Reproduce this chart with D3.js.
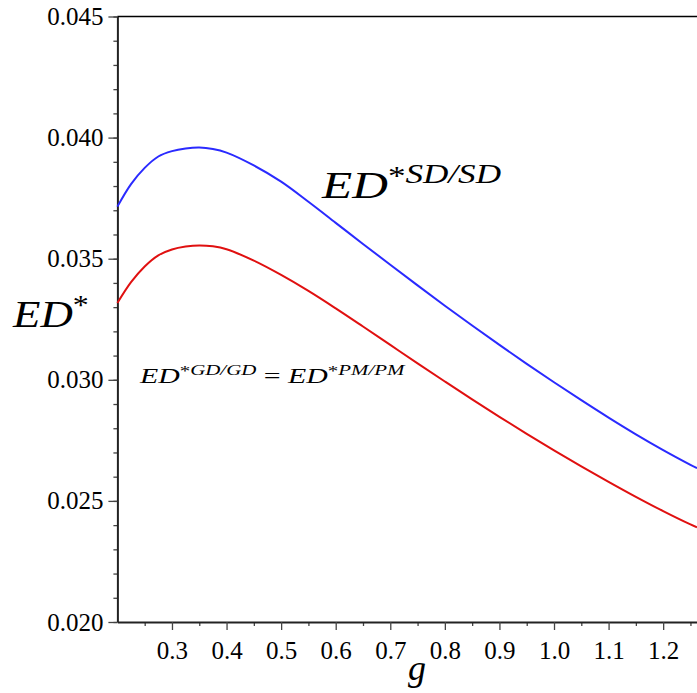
<!DOCTYPE html>
<html>
<head>
<meta charset="utf-8">
<script src="https://cdn.jsdelivr.net/npm/d3@7"></script>
<style>
	body { margin: 0; background: #fff; }
	svg { display: block; }
	text { font-family: "Liberation Serif", "DejaVu Serif", serif; fill: #000; }
</style>
</head>
<body>
<svg id="chart" width="697" height="693"></svg>
<script>
// values
var gValues = [0.20, 0.225, 0.25, 0.275, 0.30, 0.325, 0.35, 0.375, 0.40, 0.45, 0.50, 0.55, 0.60, 0.65,
	0.70, 0.75, 0.80, 0.85, 0.90, 0.95, 1.00, 1.05, 1.10, 1.15, 1.20, 1.25, 1.262];

var edSD = [0.03715, 0.03808, 0.03875, 0.03922, 0.03944, 0.03955, 0.03959, 0.03953, 0.03938, 0.03885,
	0.03818, 0.03735, 0.03648, 0.03561, 0.03475, 0.03390, 0.03306, 0.03224, 0.03144, 0.03066,
	0.02990, 0.02916, 0.02844, 0.02775, 0.02710, 0.02649, 0.02635];

var edGD = [0.03317, 0.03403, 0.03468, 0.03514, 0.03538, 0.03550, 0.03555, 0.03551, 0.03539, 0.03492,
	0.03433, 0.03367, 0.03295, 0.03220, 0.03144, 0.03068, 0.02993, 0.02919, 0.02847, 0.02777,
	0.02709, 0.02643, 0.02579, 0.02517, 0.02458, 0.02403, 0.02391];

var xTicks = [0.3, 0.4, 0.5, 0.6, 0.7, 0.8, 0.9, 1.0, 1.1, 1.2];
var xMinor = [0.25, 0.35, 0.45, 0.55, 0.65, 0.75, 0.85, 0.95, 1.05, 1.15, 1.25];
var yTicks = [0.020, 0.025, 0.030, 0.035, 0.040, 0.045];
var yMinor = d3.range(20, 46).map(function(d){ return d / 1000 });

var svg = d3.select('#chart');

// plot box (no right border in the original)
var plotLeft = 117.4, plotRight = 697, plotTop = 16.5, plotBottom = 622;

var xScale = d3.scaleLinear().domain([0.2, 1.262]).range([plotLeft, plotRight]);
var yScale = d3.scaleLinear().domain([0.020, 0.045]).range([plotBottom, plotTop]);

// minor ticks first, the axes draw the major ones
svg.append('g')
	.attr('transform', `translate(0, ${plotBottom})`)
	.call(d3.axisBottom(xScale).tickValues(xMinor).tickSize(4).tickFormat(''))
	.call(function(g){ g.select('.domain').remove() })
	.selectAll('line').attr('stroke', '#444').attr('stroke-width', 1.3);

svg.append('g')
	.attr('transform', `translate(${plotLeft}, 0)`)
	.call(d3.axisLeft(yScale).tickValues(yMinor).tickSize(4).tickFormat(''))
	.call(function(g){ g.select('.domain').remove() })
	.selectAll('line').attr('stroke', '#444').attr('stroke-width', 1.3);

var xAxis = svg.append('g')
	.attr('transform', `translate(0, ${plotBottom})`)
	.call(d3.axisBottom(xScale).tickValues(xTicks).tickSize(8).tickSizeOuter(0).tickPadding(11)
		.tickFormat(d3.format('.1f')));

var yAxis = svg.append('g')
	.attr('transform', `translate(${plotLeft}, 0)`)
	.call(d3.axisLeft(yScale).tickValues(yTicks).tickSize(9).tickSizeOuter(0).tickPadding(5)
		.tickFormat(d3.format('.3f')));

[xAxis, yAxis].forEach(function(ax){
	ax.attr('font-family', null);
	ax.select('.domain').attr('stroke', '#222').attr('stroke-width', 2);
	ax.selectAll('.tick line').attr('stroke', '#444').attr('stroke-width', 1.3);
	ax.selectAll('.tick text')
		.attr('font-size', 25)
		.attr('fill', '#000');
});

// top frame line
svg.append('line')
	.attr('x1', plotLeft).attr('x2', plotRight)
	.attr('y1', plotTop).attr('y2', plotTop)
	.attr('stroke', '#000').attr('stroke-width', 1.5);

var line = d3.line()
	.x(function(d){ return xScale(d[0]) })
	.y(function(d){ return yScale(d[1]) })
	.curve(d3.curveCatmullRom.alpha(0.5));

svg.append('path')
	.datum(d3.zip(gValues, edSD))
	.attr('fill', 'none')
	.attr('stroke', '#2a2aff')
	.attr('stroke-width', 2)
	.attr('d', line);

svg.append('path')
	.datum(d3.zip(gValues, edGD))
	.attr('fill', 'none')
	.attr('stroke', '#e01010')
	.attr('stroke-width', 2)
	.attr('d', line);

// math style labels; the original math font is wider, so stretch each one
// sideways to the width it has in the picture
function mathLabel(x, y, size, width, parts){
	var t = svg.append('text')
		.attr('font-style', 'italic')
		.attr('font-size', size);
	parts.forEach(function(p){
		t.append('tspan')
			.attr('font-size', p.size || size)
			.attr('dy', p.dy || 0)
			.attr('font-style', p.upright ? 'normal' : 'italic')
			.text(p.text);
	});
	var sx = 1;
	if(width){
		sx = width / t.node().getBBox().width;
	}
	t.attr('transform', `translate(${x}, ${y}) scale(${sx}, 1)`);
	return t;
}

mathLabel(13, 327, 38, 77, [
	{text: 'ED'},
	{text: '*', size: 27, dy: -13, upright: true}
]);

mathLabel(417, 680, 36, 0, [{text: 'g'}]).attr('text-anchor', 'middle');

mathLabel(322, 198, 38, 181, [
	{text: 'ED'},
	{text: '*', size: 27, dy: -13, upright: true},
	{text: 'SD/SD', size: 27, dy: -2}
]);

mathLabel(140, 383, 20, 268, [
	{text: 'ED'},
	{text: '*', size: 14, dy: -7, upright: true},
	{text: 'GD/GD', size: 14, dy: -1},
	{text: ' = ', dy: 8, upright: true},
	{text: 'ED'},
	{text: '*', size: 14, dy: -7, upright: true},
	{text: 'PM/PM', size: 14, dy: -1}
]);
</script>
</body>
</html>
